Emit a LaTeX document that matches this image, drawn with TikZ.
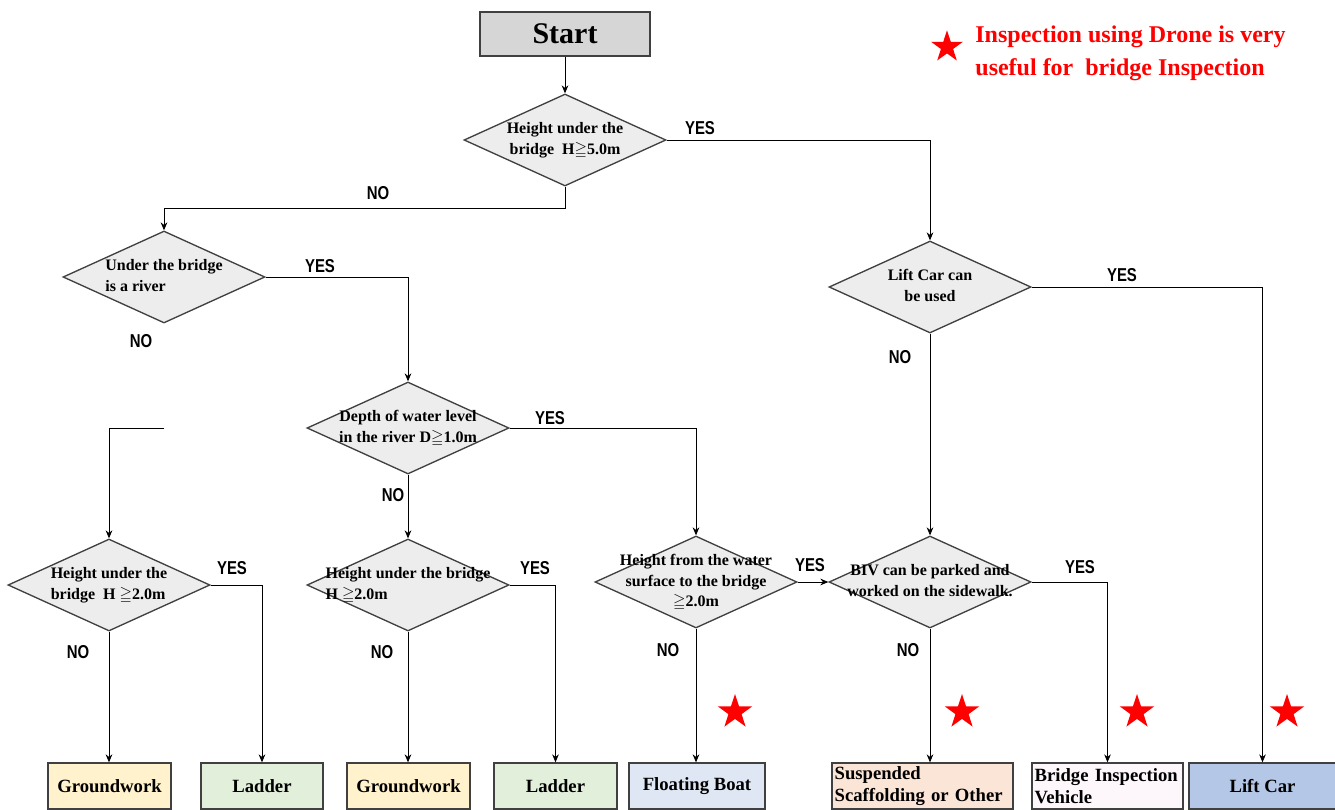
\documentclass[tikz,border=0pt]{standalone}
\usepackage{fontspec}
\usepackage{amssymb}
\setmainfont{Liberation Serif}
\newfontfamily\ynfont{Liberation Sans}[FakeStretch=0.8]
\usetikzlibrary{arrows.meta,shapes.geometric}

\definecolor{startgray}{HTML}{D6D6D6}
\definecolor{checkgray}{HTML}{EDEDED}
\definecolor{edgegray}{HTML}{404040}
\definecolor{groundfill}{HTML}{FFF2CC}
\definecolor{ladderfill}{HTML}{E2EFDA}
\definecolor{boatfill}{HTML}{DEE7F3}
\definecolor{scaffill}{HTML}{FBE5D6}
\definecolor{bivfill}{HTML}{FDF6FA}
\definecolor{liftfill}{HTML}{B4C7E7}

% text inside a check, set without width so the diamond keeps its size
\newcommand{\dtxt}[2][c]{\makebox[0pt]{\begin{tabular}{@{}#1@{}}#2\end{tabular}}}

\begin{document}
\begin{tikzpicture}[x=0.75pt,y=-0.75pt,line width=0.6pt,>={Stealth[length=6pt,width=5pt]},
  check/.style={diamond,draw=edgegray,line width=1pt,fill=checkgray,minimum width=151.5pt,minimum height=69pt,inner sep=0pt,font=\fontsize{12}{15.5}\selectfont\bfseries},
  method/.style={draw=edgegray,line width=1pt,minimum height=34.5pt,inner sep=2pt,font=\fontsize{14}{16.5}\selectfont\bfseries},
  yn/.style={font=\ynfont\fontsize{14}{15}\selectfont\bfseries},
  dronestar/.style={star,star points=5,star point ratio=2.6,fill=red,draw=none,minimum size=27pt,inner sep=0pt}]
\useasboundingbox (0,0) rectangle (1335,810);
% start
\node[draw=edgegray,line width=1pt,fill=startgray,minimum width=127.5pt,minimum height=33pt,font=\fontsize{22.5}{24}\selectfont\bfseries] (start) at (565,34) {Start};
% checks
\node[check] (hgt5) at (565,140) {\dtxt{Height under the\\bridge \ H$\geqq$5.0m}};
\node[check] (river) at (164,277) {\dtxt[l]{Under the bridge\\is a river}};
\node[check] (depth) at (408,428) {\dtxt{Depth of water level\\in the river D$\geqq$1.0m}};
\node[check] (hgtL) at (109,585) {\dtxt[l]{Height under the\\bridge \ H $\geqq$2.0m}};
\node[check] (hgtM) at (408,585) {\dtxt[l]{Height under the bridge\\H $\geqq$2.0m}};
\node[check] (water) at (696,582) {\dtxt{Height from the water\\surface to the bridge\\$\geqq$2.0m}};
\node[check] (lift) at (930,287) {\dtxt{Lift Car can\\be used}};
\node[check] (biv) at (930,582) {\dtxt{BIV can be parked and\\worked on the sidewalk.}};
% methods (bottom row)
\node[method,fill=groundfill,minimum width=92.25pt] (gw1) at (109.5,786) {Groundwork};
\node[method,fill=ladderfill,minimum width=91.5pt] (ld1) at (262,786) {Ladder};
\node[method,fill=groundfill,minimum width=92.25pt] (gw2) at (408.5,786) {Groundwork};
\node[method,fill=ladderfill,minimum width=92.25pt] (ld2) at (555.5,786) {Ladder};
\node[method,fill=boatfill,minimum width=102pt] (boat) at (697,786) {Floating Boat};
\node[method,fill=scaffill,minimum width=135.75pt,text width=131.75pt,align=left] (scaf) at (922.5,786) {Suspended\\Scaffolding or Other};
\node[method,fill=bivfill,minimum width=113.25pt,text width=109.25pt,align=left] (bivbox) at (1107.5,786) {Bridge Inspection\\Vehicle};
\node[method,fill=liftfill,minimum width=110.25pt] (liftbox) at (1262.5,786) {Lift Car};
% connectors
\draw[->] (start) -- (hgt5);
\draw[->] (hgt5.east) -| (lift.north);
\draw[->] (hgt5.south) -- ++(0,22) -| (river.north);
\draw[->] (river.east) -| (depth.north);
% NO of the river check starts loose, as printed
\coordinate (riverno) at (164,428);
\draw[->] (riverno) -| (hgtL.north);
\draw[->] (depth.east) -| (water.north);
\draw[->] (depth.south) -- (hgtM.north);
\draw[->] (hgtL.east) -| (ld1.north);
\draw[->] (hgtL.south) -- (hgtL.south |- gw1.north);
\draw[->] (hgtM.east) -| (ld2.north);
\draw[->] (hgtM.south) -- (hgtM.south |- gw2.north);
\draw[->] (water.east) -- (biv.west);
\draw[->] (water.south) -- (water.south |- boat.north);
\draw[->] (lift.east) -| (liftbox.north);
\draw[->] (lift.south) -- (biv.north);
\draw[->] (biv.east) -| (bivbox.north);
\draw[->] (biv.south) -- (biv.south |- scaf.north);
% YES / NO labels
\node[yn] (y1) at (700,128) {YES};
\node[yn] (n1) at (378,193) {NO};
\node[yn] (y2) at (320,266) {YES};
\node[yn] (n2) at (141,341) {NO};
\node[yn] (y3) at (550,418) {YES};
\node[yn] (n3) at (393,495) {NO};
\node[yn] (y4) at (232,568) {YES};
\node[yn] (n4) at (78,652) {NO};
\node[yn] (y5) at (535,568) {YES};
\node[yn] (n5) at (382,652) {NO};
\node[yn] (y6) at (810,565) {YES};
\node[yn] (n6) at (668,650) {NO};
\node[yn] (y7) at (1122,275) {YES};
\node[yn] (n7) at (900,357) {NO};
\node[yn] (y8) at (1080,567) {YES};
\node[yn] (n8) at (908,650) {NO};
% drone stars
\node[dronestar] (s1) at (735,712) {};
\node[dronestar] (s2) at (962,712) {};
\node[dronestar] (s3) at (1137,712) {};
\node[dronestar] (s4) at (1287,712) {};
% legend
\node[dronestar,minimum size=25pt] (lstar) at (947,47) {};
\node[anchor=west,text=red,inner sep=0pt,font=\fontsize{18}{25}\selectfont\bfseries,align=left] (legend) at (975,53) {Inspection using Drone is very\\useful for \ bridge Inspection};
\end{tikzpicture}
\end{document}
